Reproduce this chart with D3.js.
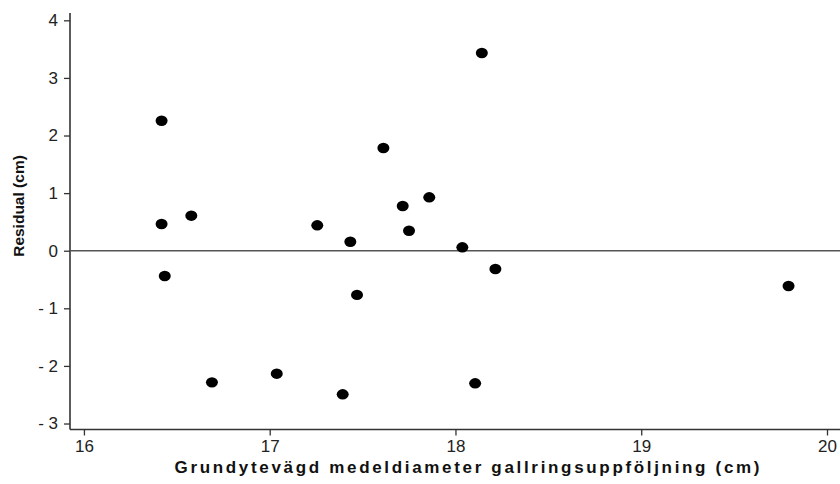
<!DOCTYPE html>
<html>
<head>
<meta charset="utf-8">
<script src="https://cdn.jsdelivr.net/npm/d3@7"></script>
<style>
  html, body { margin: 0; padding: 0; background: #fff; }
  svg { display: block; }
</style>
</head>
<body>
<svg id="chart" width="840" height="484"></svg>
<script>
// Diameter (cm) and residual (cm) for each stand
const diameter = [16.418, 16.418, 16.578, 16.435, 16.689, 17.038, 17.256, 17.434, 17.470, 17.393,
                  17.612, 17.716, 17.750, 17.859, 18.037, 18.106, 18.142, 18.215, 19.793];
const residual = [2.257, 0.464, 0.608, -0.439, -2.285, -2.135, 0.441, 0.156, -0.767, -2.493,
                  1.783, 0.776, 0.347, 0.927, 0.059, -2.302, 3.432, -0.318, -0.613];
const xTicks = [16, 17, 18, 19, 20];
const yTicks = [-3, -2, -1, 0, 1, 2, 3, 4];
const xTitle = "Grundytevägd medeldiameter gallringsuppföljning (cm)";
const yTitle = "Residual (cm)";

const svg = d3.select("#chart");
const plot = { left: 70, right: 840, top: 13, bottom: 429.5 };
const font = "'Liberation Sans', Arial, sans-serif";

const x = d3.scaleLinear().domain([15.925, 20.07]).range([plot.left, plot.right]);
const y = d3.scaleLinear().domain([-3.104, 4.127]).range([plot.bottom, plot.top]);

const axisColor = "#333";

function styleAxis(g) {
  g.selectAll(".tick line").attr("stroke", axisColor).attr("stroke-width", 1.3);
  g.selectAll(".tick text")
    .style("font-family", font).style("font-size", "17px").attr("fill", "#222");
}

// x axis
const gx = svg.append("g").attr("transform", `translate(0,${plot.bottom})`)
  .call(d3.axisBottom(x).tickValues(xTicks).tickFormat(d3.format("d")).tickSize(6).tickPadding(4));
gx.select(".domain").attr("d", `M${plot.left},0H${plot.right}`).attr("stroke", axisColor).attr("stroke-width", 1.6);
styleAxis(gx);

// y axis
const gy = svg.append("g").attr("transform", `translate(${plot.left},0)`)
  .call(d3.axisLeft(y).tickValues(yTicks)
    .tickFormat(d => d < 0 ? "- " + Math.abs(d) : String(d)).tickSize(6).tickPadding(6));
gy.select(".domain").attr("d", `M0,${plot.top}V${plot.bottom}`).attr("stroke", axisColor).attr("stroke-width", 1.6);
styleAxis(gy);

// zero reference line
svg.append("line")
  .attr("x1", plot.left).attr("x2", plot.right)
  .attr("y1", y(0)).attr("y2", y(0))
  .attr("stroke", "#555").attr("stroke-width", 1.4);

// points
svg.append("g").selectAll("ellipse")
  .data(diameter.map((d, i) => [d, residual[i]]))
  .join("ellipse")
  .attr("cx", d => x(d[0]))
  .attr("cy", d => y(d[1]))
  .attr("rx", 6).attr("ry", 5.2)
  .attr("fill", "#000");

// axis titles
svg.append("text")
  .attr("x", 467).attr("y", 473)
  .attr("text-anchor", "middle")
  .attr("textLength", 585).attr("lengthAdjust", "spacing")
  .style("font-family", font)
  .style("font-size", "17px").style("font-weight", "bold").attr("fill", "#111")
  .text(xTitle);

svg.append("text")
  .attr("transform", "translate(24,206) rotate(-90)")
  .attr("text-anchor", "middle")
  .style("font-family", font)
  .style("font-size", "15.5px").style("font-weight", "bold").attr("fill", "#111")
  .text(yTitle);
</script>
</body>
</html>
